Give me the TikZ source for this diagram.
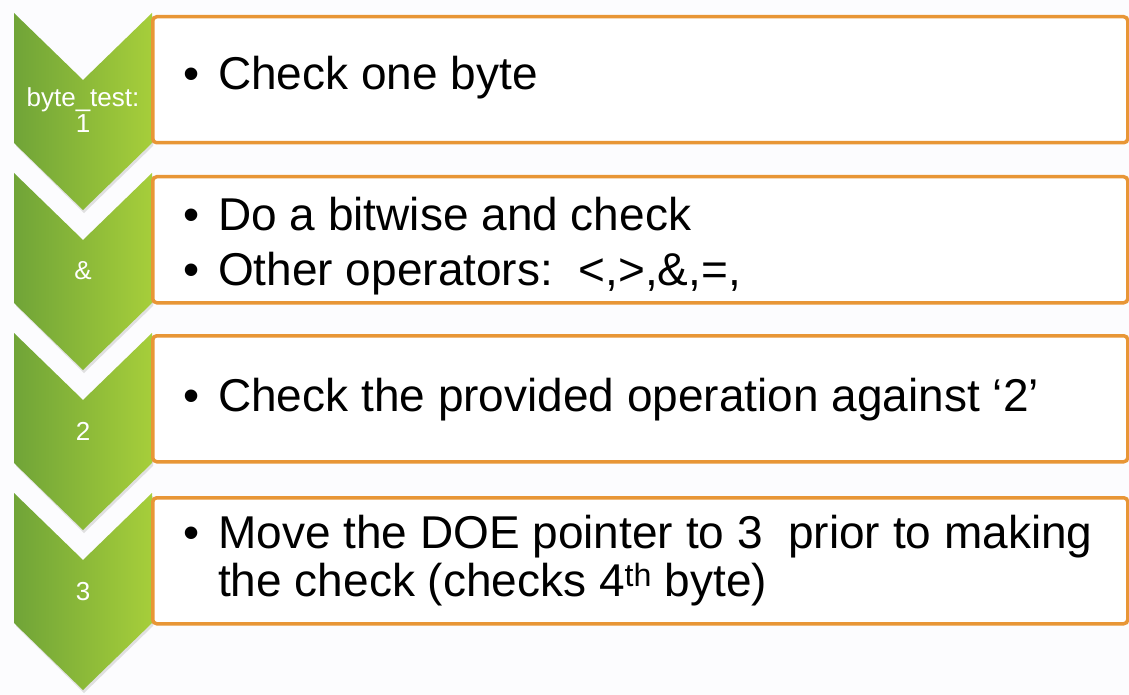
\documentclass[tikz,border=0pt]{standalone}
\usepackage{fontspec}
\setmainfont{Liberation Sans}
\usepackage{xcolor}
\usepackage{tikz}
\usetikzlibrary{calc}

\definecolor{chevdark}{RGB}{112,164,56}
\definecolor{chevlight}{RGB}{166,206,58}
\definecolor{boxorange}{RGB}{232,150,54}
\definecolor{pagebg}{RGB}{252,252,254}
\newcommand{\bul}{\makebox[35pt][l]{\textbullet}}

\begin{document}
\begin{tikzpicture}[x=1pt, y=-1pt,
  chevron/.style={left color=chevdark, right color=chevlight},
  stepbox/.style={draw=boxorange, line width=3.5pt, fill=white, rounded corners=4pt,
    minimum width=975pt, minimum height=126pt, inner sep=0pt, anchor=north west},
  steplabel/.style={text=white, align=center, inner sep=0pt, font=\fontsize{26}{26}\selectfont},
  itemtext/.style={anchor=base west, inner sep=0pt, font=\fontsize{46}{48}\selectfont}]
  \fill[pagebg] (0,0) rectangle (1129,695);
  \useasboundingbox (0,0) rectangle (1129,695);
  % green chevrons on the left
  \foreach \yy in {13,173,333,493}{
    \fill[black!12] (16,\yy+3) -- (84,\yy+70) -- (153,\yy+3) -- (153,\yy+133) -- (84,\yy+200) -- (16,\yy+133) -- cycle;
    \shade[chevron] (14,\yy) -- (83,\yy+67) -- (152,\yy) -- (152,\yy+130) -- (83,\yy+197) -- (14,\yy+130) -- cycle;
  }
  \node[steplabel, anchor=base] (lab1) at (83,133) {byte\_test:\\1};
  \node[steplabel, anchor=base] (lab2) at (83,279) {\&};
  \node[steplabel, anchor=base] (lab3) at (83,440) {2};
  \node[steplabel, anchor=base] (lab4) at (83,600) {3};
  % orange text boxes
  \node[stepbox] (box1) at (151,15) {};
  \node[stepbox] (box2) at (151,175) {};
  \node[stepbox] (box3) at (151,334) {};
  \node[stepbox] (box4) at (151,496) {};
  \node[itemtext] (t1) at ($(box1.north west)+(32,75)$) {\bul Check one byte};
  \node[itemtext] (t2a) at ($(box2.north west)+(32,55)$) {\bul Do a bitwise and check};
  \node[itemtext] (t2b) at ($(box2.north west)+(32,110)$) {\bul Other operators:\ \ <,>,\&,=,};
  \node[itemtext] (t3) at ($(box3.north west)+(32,77)$) {\bul Check the provided operation against `2'};
  \node[itemtext] (t4a) at ($(box4.north west)+(32,52)$) {\bul Move the DOE pointer to 3\ \ prior to making};
  \node[itemtext] (t4b) at ($(box4.north west)+(67,100)$) {the check (checks 4\textsuperscript{th} byte)};
\end{tikzpicture}
\end{document}
